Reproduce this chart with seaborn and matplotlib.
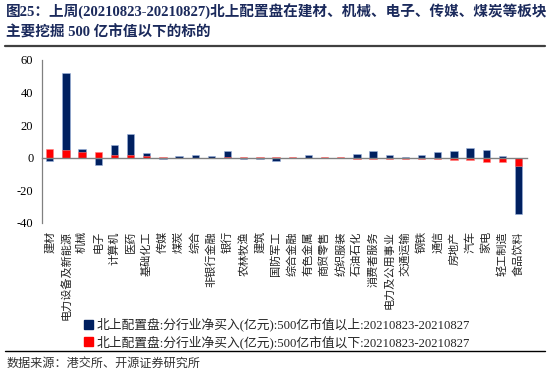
import matplotlib
matplotlib.use('Agg')
import matplotlib.pyplot as plt
import seaborn as sns
import pandas as pd
from matplotlib.patches import Patch
from matplotlib.lines import Line2D
from matplotlib.ticker import FixedLocator

categories = ["建材", "电力设备及新能源", "机械", "电子", "计算机", "医药", "基础化工", "传媒",
              "煤炭", "综合", "非银行金融", "银行", "农林牧渔", "建筑", "国防军工", "综合金融",
              "有色金属", "商贸零售", "纺织服装", "石油石化", "消费者服务", "电力及公用事业",
              "交通运输", "钢铁", "通信", "房地产", "汽车", "家电", "轻工制造", "食品饮料"]
above_500 = [-1.8, 52.0, 5.5, -4.3, 7.8, 14.8, 2.7, -0.8, 1.0, 1.4, 0.9, 3.8, -0.8, -0.6,
             -2.2, 0.0, 1.9, 0.0, 0.0, 2.0, 3.8, 1.5, 0.5, 1.4, 3.2, 3.9, 6.0, 4.4, 1.0, -34.5]
below_500 = [5.0, 4.5, 3.3, 3.2, 1.4, 1.4, 1.0, 0.4, 0.0, 0.0, 0.0, 0.3, 0.3, 0.5,
             0.4, 0.4, 0.0, 0.4, 0.4, -1.0, -0.9, -0.8, -0.8, -0.8, -0.6, -1.4, -1.2, -2.6, -2.7, -5.3]
legend_labels = ["北上配置盘:分行业净买入(亿元):500亿市值以上:20210823-20210827",
                 "北上配置盘:分行业净买入(亿元):500亿市值以下:20210823-20210827"]
title_line1 = "图25：上周(20210823-20210827)北上配置盘在建材、机械、电子、传媒、煤炭等板块"
title_line2 = "主要挖掘 500 亿市值以下的标的"
source_text = "数据来源：港交所、开源证券研究所"
yticks = [-40, -20, 0, 20, 40, 60]

sns.set_style("white")
plt.rcParams['font.family'] = ['Liberation Serif', 'Noto Sans CJK SC']
plt.rcParams['axes.unicode_minus'] = False

BLUE = "#002060"
RED = "#FF0000"
GRAY = "#808080"

df = pd.DataFrame({"cat": categories, "above": above_500, "below": below_500})

fig = plt.figure(figsize=(5.5, 3.77), dpi=100)
ax = fig.add_axes([41.7 / 550, 1 - 222.7 / 377, 485 / 550, (222.7 - 60) / 377])

sns.barplot(data=df, x="cat", y="above", order=categories, color=BLUE, width=0.45,
            edgecolor="#9db3dc", linewidth=0.4, saturation=1, ax=ax)
sns.barplot(data=df, x="cat", y="below", order=categories, color=RED, width=0.45,
            edgecolor="#ff8080", linewidth=0.4, saturation=1, ax=ax)

ax.set_xlim(-0.5, len(categories) - 0.5)
ax.set_ylim(-40, 60)
ax.set_xlabel("")
ax.set_ylabel("")
ax.yaxis.set_major_locator(FixedLocator(yticks))

for s in ["top", "right"]:
    ax.spines[s].set_visible(False)
ax.spines["left"].set_color(GRAY)
ax.spines["left"].set_linewidth(0.9)
ax.spines["bottom"].set_position(("data", 0))
ax.spines["bottom"].set_color(GRAY)
ax.spines["bottom"].set_linewidth(1.0)

ax.tick_params(axis="y", direction="out", length=3, width=0.8, color=GRAY,
               labelsize=9, pad=3, labelcolor="black")
ax.xaxis.set_minor_locator(FixedLocator([i + 0.5 for i in range(len(categories))]))
ax.tick_params(axis="x", which="major", length=0, pad=53, labelsize=8, labelrotation=90)
ax.tick_params(axis="x", which="minor", direction="inout", length=4, width=0.8, color=GRAY)
for lab in ax.get_xticklabels():
    lab.set_family(['Noto Sans CJK SC'])
    lab.set_va('top')
    lab.set_color("#222222")

# Title
TITLE_C = "#1b2a5c"
fig.text(6 / 550, 1 - 12 / 377, title_line1, fontsize=10.5, fontweight="bold",
         color=TITLE_C, va="center", ha="left")
fig.text(6 / 550, 1 - 32 / 377, title_line2, fontsize=10.5, fontweight="bold",
         color=TITLE_C, va="center", ha="left")
fig.add_artist(Line2D([5 / 550, 545 / 550], [1 - 46 / 377, 1 - 46 / 377],
                      color="#404040", linewidth=1.6, transform=fig.transFigure))

# Legend
handles = [Patch(facecolor=BLUE, edgecolor=BLUE), Patch(facecolor=RED, edgecolor=RED)]
leg = fig.legend(handles, legend_labels, loc="upper left",
                 bbox_to_anchor=(84 / 550, 1 - 318 / 377), frameon=False,
                 fontsize=9.2, handlelength=0.7, handleheight=0.7, handletextpad=0.3,
                 labelspacing=0.3, borderpad=0, borderaxespad=0)

fig.add_artist(Line2D([5 / 550, 545 / 550], [1 - 351 / 377, 1 - 351 / 377],
                      color="black", linewidth=1.0, transform=fig.transFigure))
fig.text(7 / 550, 1 - 364 / 377, source_text, fontsize=8.7, color="#333333",
         va="center", ha="left")

fig.savefig("out.png", dpi=100)
